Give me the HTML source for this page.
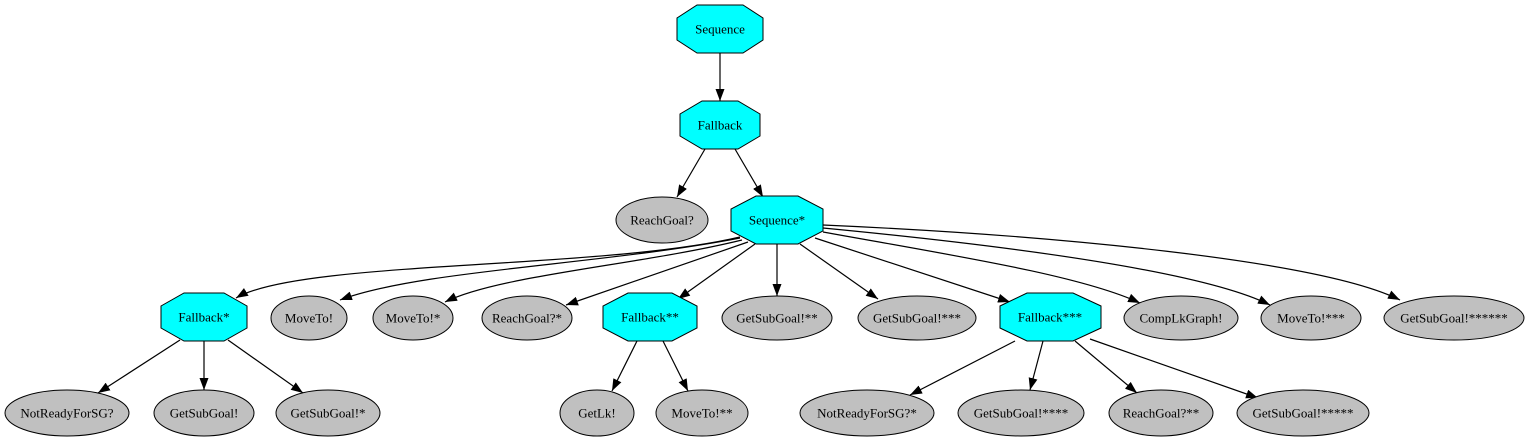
<!DOCTYPE html>
<html><head><meta charset="utf-8"><style>
html,body{margin:0;padding:0;background:#fff;}
svg{display:block;}
text{font-family:"Liberation Serif",serif;font-size:13px;text-anchor:middle;dominant-baseline:central;fill:#000;}
.o{fill:#00ffff;stroke:#000;stroke-width:1;}
.e{fill:#c0c0c0;stroke:#000;stroke-width:1;}
.l{fill:none;stroke:#000;stroke-width:1.2;}
</style></head><body>
<svg width="1530" height="443" viewBox="0 0 1530 443" xmlns="http://www.w3.org/2000/svg">
<defs><marker id="a" markerUnits="userSpaceOnUse" markerWidth="12" markerHeight="9" refX="12" refY="4.5" orient="auto"><path d="M0,0 L12,4.5 L0,9 z" fill="#000"/></marker></defs>
<g class="l">
<path d="M720,53 L720,101" marker-end="url(#a)"/>
<path d="M705,149 L677,197" marker-end="url(#a)"/>
<path d="M735,149 L763,197" marker-end="url(#a)"/>
<path d="M740,237 C600,270 300,260 236,298" marker-end="url(#a)"/>
<path d="M740,238 C600,265 420,270 340,300" marker-end="url(#a)"/>
<path d="M742,240 C640,265 500,275 445,302" marker-end="url(#a)"/>
<path d="M748,242 L566,305" marker-end="url(#a)"/>
<path d="M755,244 L678,299" marker-end="url(#a)"/>
<path d="M777,244 L777,296" marker-end="url(#a)"/>
<path d="M800,244 L878,299" marker-end="url(#a)"/>
<path d="M815,238 L1010,302" marker-end="url(#a)"/>
<path d="M823,232 C950,255 1080,275 1140,303" marker-end="url(#a)"/>
<path d="M823,228 C1000,245 1200,270 1270,305" marker-end="url(#a)"/>
<path d="M823,225 C1050,235 1320,260 1400,300" marker-end="url(#a)"/>
<path d="M180,340 L98,393" marker-end="url(#a)"/>
<path d="M204,341 L204,390" marker-end="url(#a)"/>
<path d="M228,340 L303,393" marker-end="url(#a)"/>
<path d="M637,341 L612,391" marker-end="url(#a)"/>
<path d="M663,341 L688,391" marker-end="url(#a)"/>
<path d="M1015,341 L910,395" marker-end="url(#a)"/>
<path d="M1043,341 L1030,390" marker-end="url(#a)"/>
<path d="M1075,341 L1137,393" marker-end="url(#a)"/>
<path d="M1090,339 L1258,398" marker-end="url(#a)"/>
</g>
<polygon class="o" points="697,5 743,5 763,18 763,40 743,53 697,53 677,40 677,18"/>
<text x="720" y="29">Sequence</text>
<polygon class="o" points="702,101 738,101 760,114 760,136 738,149 702,149 680,136 680,114"/>
<text x="720" y="125">Fallback</text>
<polygon class="o" points="756,196 798,196 823,209 823,231 798,244 756,244 731,231 731,209"/>
<text x="777" y="220">Sequence*</text>
<polygon class="o" points="184,293 224,293 247,306 247,328 224,341 184,341 161,328 161,306"/>
<text x="204" y="317">Fallback*</text>
<polygon class="o" points="628,293 672,293 697,306 697,328 672,341 628,341 603,328 603,306"/>
<text x="650" y="317">Fallback**</text>
<polygon class="o" points="1027,293 1073,293 1101,306 1101,328 1073,341 1027,341 1000,328 1000,306"/>
<text x="1050" y="317">Fallback***</text>
<ellipse class="e" cx="662" cy="220" rx="46" ry="23"/><text x="662" y="220">ReachGoal?</text>
<ellipse class="e" cx="309" cy="318" rx="38" ry="22"/><text x="309" y="318">MoveTo!</text>
<ellipse class="e" cx="413" cy="318" rx="40" ry="22"/><text x="413" y="318">MoveTo!*</text>
<ellipse class="e" cx="527" cy="318" rx="45" ry="22"/><text x="527" y="318">ReachGoal?*</text>
<ellipse class="e" cx="777" cy="318" rx="55" ry="22"/><text x="777" y="318">GetSubGoal!**</text>
<ellipse class="e" cx="917" cy="318" rx="59" ry="22"/><text x="917" y="318">GetSubGoal!***</text>
<ellipse class="e" cx="1181" cy="318" rx="57" ry="22"/><text x="1181" y="318">CompLkGraph!</text>
<ellipse class="e" cx="1311" cy="318" rx="50" ry="22"/><text x="1311" y="318">MoveTo!***</text>
<ellipse class="e" cx="1454" cy="318" rx="70" ry="22"/><text x="1454" y="318">GetSubGoal!******</text>
<ellipse class="e" cx="67" cy="413" rx="62" ry="23"/><text x="67" y="413">NotReadyForSG?</text>
<ellipse class="e" cx="204" cy="413" rx="50" ry="23"/><text x="204" y="413">GetSubGoal!</text>
<ellipse class="e" cx="328" cy="413" rx="52" ry="23"/><text x="328" y="413">GetSubGoal!*</text>
<ellipse class="e" cx="597" cy="413" rx="37" ry="23"/><text x="597" y="413">GetLk!</text>
<ellipse class="e" cx="702" cy="413" rx="46" ry="23"/><text x="702" y="413">MoveTo!**</text>
<ellipse class="e" cx="867" cy="413" rx="67" ry="23"/><text x="867" y="413">NotReadyForSG?*</text>
<ellipse class="e" cx="1021" cy="413" rx="63" ry="23"/><text x="1021" y="413">GetSubGoal!****</text>
<ellipse class="e" cx="1161" cy="413" rx="52" ry="23"/><text x="1161" y="413">ReachGoal?**</text>
<ellipse class="e" cx="1303" cy="413" rx="66" ry="23"/><text x="1303" y="413">GetSubGoal!*****</text>
</svg>
</body></html>
